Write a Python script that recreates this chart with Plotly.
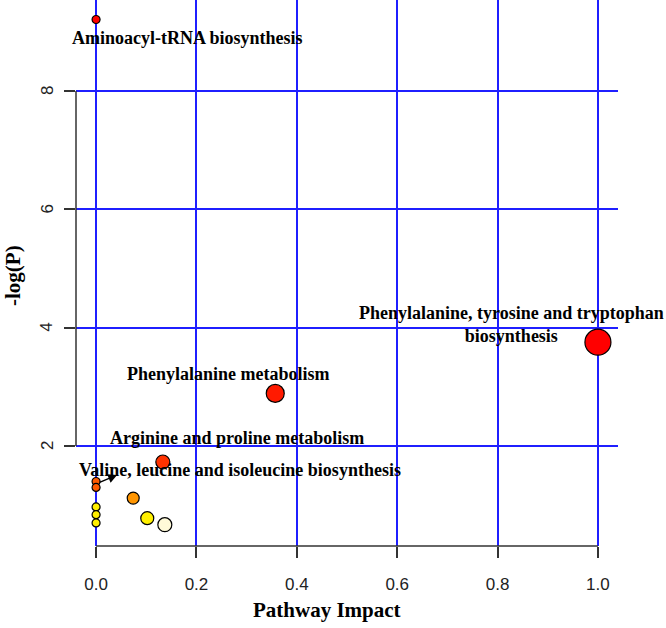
import plotly.graph_objects as go

# Pathway data
pathways = [
    "Aminoacyl-tRNA biosynthesis",
    "Phenylalanine, tyrosine and tryptophan biosynthesis",
    "Phenylalanine metabolism",
    "Arginine and proline metabolism",
    "Valine, leucine and isoleucine biosynthesis",
    "Pathway 6",
    "Pathway 7",
    "Pathway 8",
    "Pathway 9",
    "Pathway 10",
    "Pathway 11",
    "Pathway 12",
]
impact = [0.0, 1.0, 0.357, 0.133, 0.0, 0.0, 0.074, 0.0, 0.0, 0.0, 0.102, 0.137]
neglogp = [9.21, 3.755, 2.89, 1.73, 1.40, 1.30, 1.12, 0.97, 0.84, 0.70, 0.78, 0.67]

bubble = [8, 26, 18, 14, 8, 8, 12, 8, 8, 8, 13, 14]
colors = ["#FF0000", "#FF0000", "#FF1A00", "#FF3300", "#FF5A00", "#FF5A00",
          "#FF9500", "#FFEE00", "#FFEE00", "#FFEE00", "#FFF000", "#FFFAD8"]

x_ticks = [0.0, 0.2, 0.4, 0.6, 0.8, 1.0]
x_ticklabels = ["0.0", "0.2", "0.4", "0.6", "0.8", "1.0"]
y_ticks = [2, 4, 6, 8]
y_ticklabels = ["2", "4", "6", "8"]

labels = [
    ("Aminoacyl-tRNA biosynthesis", 0.182, 8.90),
    ("Phenylalanine, tyrosine and tryptophan<br>biosynthesis", 0.828, 4.06),
    ("Phenylalanine metabolism", 0.263, 3.215),
    ("Arginine and proline metabolism", 0.281, 2.135),
    ("Valine, leucine and isoleucine biosynthesis", 0.287, 1.60),
]

xr = [-0.04, 1.04]
yr = [0.31, 9.54]

L, R, T, B = 76, 48, 0, 82
PW, PH = 666 - L - R, 628 - T - B

fig = go.Figure()
fig.add_trace(go.Scatter(
    x=impact, y=neglogp, mode="markers", text=pathways,
    marker=dict(size=bubble, color=colors, opacity=1,
                line=dict(color="black", width=1.2)),
    showlegend=False, hoverinfo="text+x+y",
))

serif = "Liberation Serif, Times New Roman, serif"
sans = "Liberation Sans, Arial, sans-serif"

annotations = []
for txt, lx, ly in labels:
    annotations.append(dict(x=lx, y=ly, xref="x", yref="y", text="<b>" + txt + "</b>",
                            showarrow=False, font=dict(family=serif, size=18, color="black"),
                            align="center"))
# y tick labels (rotated, as in R base graphics)
for v, t in zip(y_ticks, y_ticklabels):
    annotations.append(dict(x=(47 - L) / PW, y=v, xref="paper", yref="y", text=t,
                            showarrow=False, textangle=-90,
                            xanchor="center", yanchor="middle",
                            font=dict(family=sans, size=17, color="#222222")))
# arrow pointing to valine label
annotations.append(dict(x=0.042, y=1.51, ax=0.004, ay=1.375, xref="x", yref="y",
                        axref="x", ayref="y", text="", showarrow=True,
                        arrowhead=2, arrowsize=1.2, arrowwidth=1.5, arrowcolor="black"))
annotations.append(dict(xref="paper", yref="paper",
                        x=(327 - L) / PW, y=(PH - (610 - T)) / PH,
                        xanchor="center", yanchor="middle",
                        text="<b>Pathway Impact</b>", showarrow=False,
                        font=dict(family=serif, size=21, color="black")))
annotations.append(dict(xref="paper", yref="paper",
                        x=(13 - L) / PW, y=(PH - (276 - T)) / PH,
                        xanchor="center", yanchor="middle",
                        text="<b>-log(P)</b>", showarrow=False, textangle=-90,
                        font=dict(family=serif, size=21, color="black")))

shapes = [
    dict(type="line", xref="x", yref="paper", x0=0, x1=1, y0=0, y1=0,
         line=dict(color="#333333", width=1.5)),
    dict(type="line", xref="paper", yref="y", x0=0, x1=0, y0=2, y1=8,
         line=dict(color="#333333", width=1.5)),
]

fig.update_layout(
    width=666, height=628,
    margin=dict(l=L, r=R, t=T, b=B, autoexpand=False),
    paper_bgcolor="white", plot_bgcolor="white",
    annotations=annotations, shapes=shapes,
    xaxis=dict(range=xr, tickvals=x_ticks, ticktext=x_ticklabels, showgrid=True,
               gridcolor="#1F1FFF", gridwidth=1.5, zeroline=False, showline=False,
               automargin=False,
               ticks="outside", ticklen=11, tickwidth=1.5, tickcolor="#333333",
               tickfont=dict(family=sans, size=17, color="#222222"), ticklabelstandoff=12),
    yaxis=dict(range=yr, tickvals=y_ticks, showgrid=True, showticklabels=False,
               gridcolor="#1F1FFF", gridwidth=1.5, zeroline=False, showline=False,
               automargin=False,
               ticks="outside", ticklen=11, tickwidth=1.5, tickcolor="#333333"),
)

fig.write_html("out.html", config={"displayModeBar": False},
               post_script="document.body.style.margin='0';document.body.style.overflow='hidden';")
